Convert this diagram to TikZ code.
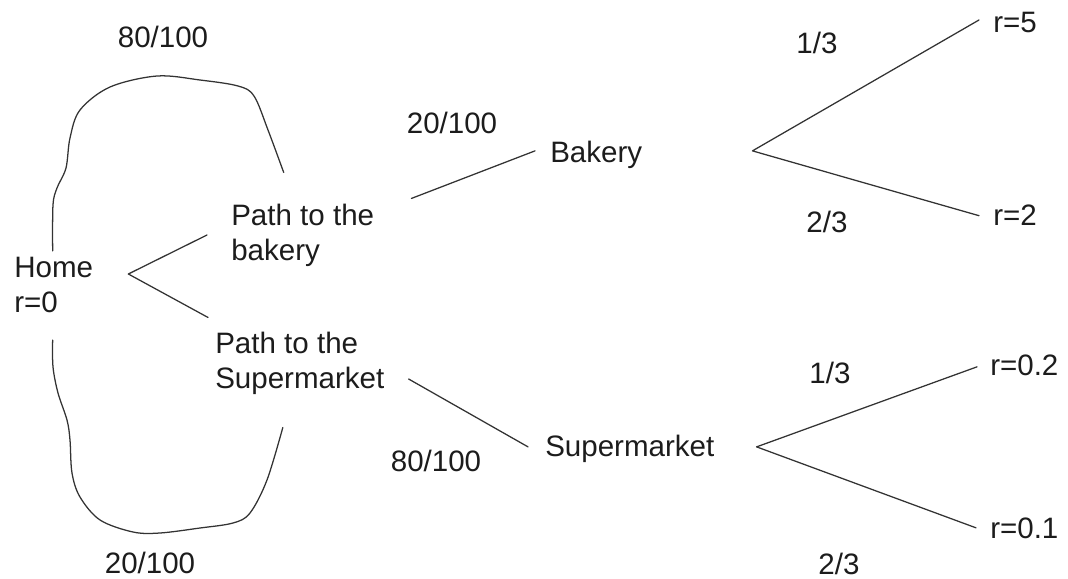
\documentclass[tikz,border=0pt]{standalone}
\usepackage{fontspec}
\setmainfont{Liberation Sans}
\definecolor{lineagris}{HTML}{333333}
\definecolor{textogris}{HTML}{1C1C1C}

\tikzset{
	texto/.style={inner sep=0pt, text=textogris, font=\fontsize{21pt}{24.9pt}\selectfont},
	linea/.style={draw=lineagris, line width=0.9pt, line cap=round, line join=round},
}

\begin{document}
\begin{tikzpicture}[x=0.025cm, y=-0.025cm]
	\useasboundingbox (0,0) rectangle (1068,579);
	
	% Estados
	\node[texto, anchor=west, align=left] (home) at (14,285) {Home\\r=0};
	\node[texto, anchor=west, align=left] (pathb) at (231,235) {Path to the\\bakery};
	\node[texto, anchor=west, align=left] (paths) at (215,363) {Path to the\\Supermarket};
	\node[texto, anchor=base west] (bakery) at (550,162) {Bakery};
	\node[texto, anchor=base west] (super) at (545,456) {Supermarket};
	
	% Recompensas finales
	\node[texto, anchor=base west] (r5) at (993,32) {r=5};
	\node[texto, anchor=base west] (r2) at (993,225) {r=2};
	\node[texto, anchor=base west] (r02) at (990,375) {r=0.2};
	\node[texto, anchor=base west] (r01) at (990,538) {r=0.1};
	
	% Probabilidades
	\node[texto, anchor=base] (p80t) at (163,47) {80/100};
	\node[texto, anchor=base] (p20b) at (150,573) {20/100};
	\node[texto, anchor=base] (p20m) at (452,133) {20/100};
	\node[texto, anchor=base] (p80m) at (436,471) {80/100};
	\node[texto, anchor=base] (b13) at (817,53) {1/3};
	\node[texto, anchor=base] (b23) at (827,232) {2/3};
	\node[texto, anchor=base] (s13) at (830,383) {1/3};
	\node[texto, anchor=base] (s23) at (839,574) {2/3};
	
	% Bifurcaciones
	\coordinate (hf) at ([shift={(35,-11)}]home.east);
	\coordinate (bf) at ([shift={(110,-3.5)}]bakery.east);
	\coordinate (sf) at ([shift={(42,-1.5)}]super.east);
	
	\draw[linea] ([shift={(-24,0)}]pathb.west) -- (hf) -- ([shift={(-7,-14)}]paths.north west);
	\draw[linea] ([shift={(37,-5)}]pathb.north east) -- ([shift={(-15,-3.5)}]bakery.west);
	\draw[linea] ([shift={(24,16)}]paths.east) -- ([shift={(-17,-1.5)}]super.west);
	\draw[linea] ([shift={(-14,-2)}]r5.west) -- (bf) -- ([shift={(-14,1)}]r2.west);
	\draw[linea] ([shift={(-13,2)}]r02.west) -- (sf) -- ([shift={(-14,0)}]r01.west);
	
	% Curvas de vuelta a casa
	\coordinate (ht) at ([shift={(-1,-6)}]home.north);
	\coordinate (hb) at ([shift={(-1,27)}]home.south);
	\coordinate (pt) at ([shift={(-19,-31)}]pathb.north);
	\coordinate (pb) at ([shift={(-17,33)}]paths.south);
	\draw[linea] plot[smooth, tension=0.55] coordinates {(ht) (53,205) (57,188) (66,168) (70,138) (80,110) (110,87) (157,76) (200,80) (238,86) (254,96) (268,130) (pt)};
	\draw[linea] plot[smooth, tension=0.55] coordinates {(hb) (53,367) (58,393) (67,420) (70,440) (72,473) (80,497) (100,520) (133,532) (160,533) (200,528) (233,523) (250,513) (267,480) (pb)};
\end{tikzpicture}
\end{document}
